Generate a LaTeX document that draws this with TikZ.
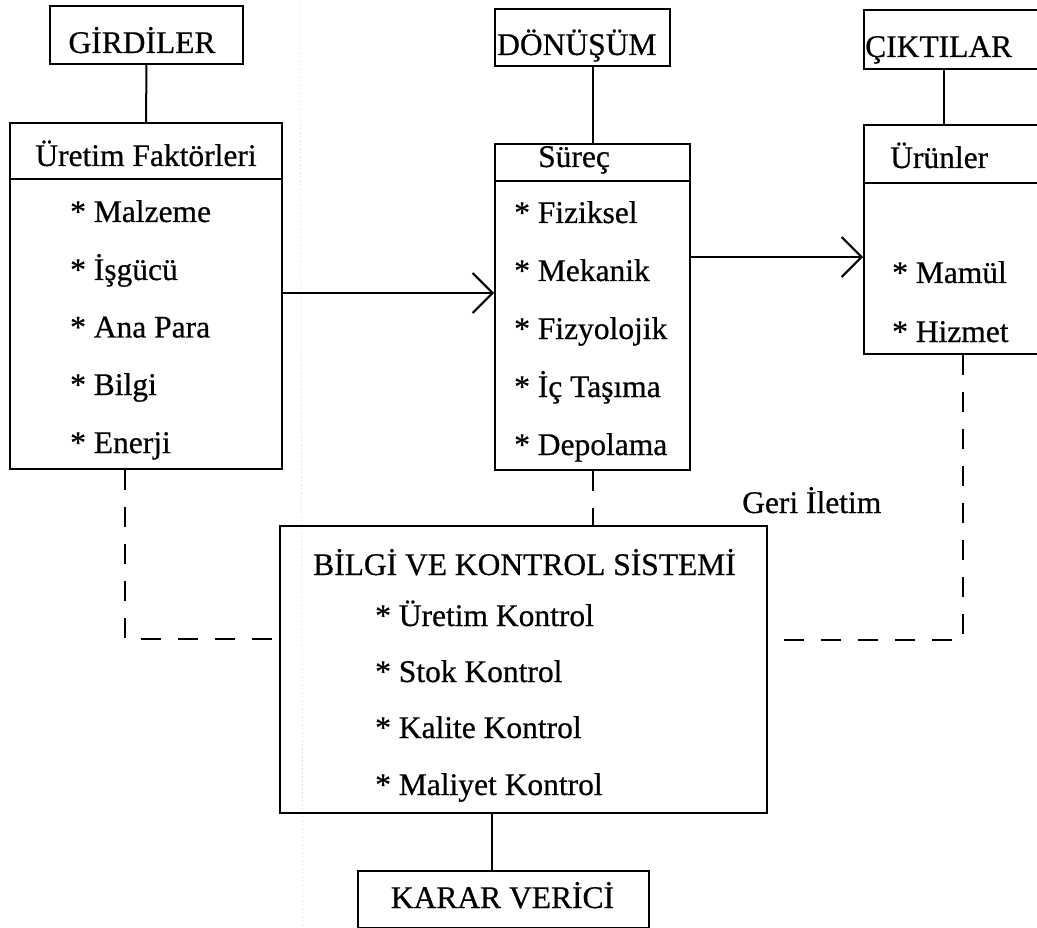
\documentclass[tikz,border=0pt]{standalone}
\usepackage{fontspec}
\setmainfont{Liberation Serif}[FakeBold=0.6]
\usetikzlibrary{arrows.meta,calc}
\begin{document}
\begin{tikzpicture}[x=1pt,y=-1pt,
  every node/.style={font=\fontsize{31.5}{36}\selectfont, inner sep=0pt},
  box/.style={draw, line width=2pt, anchor=north west},
  lbl/.style={anchor=base west},
  link/.style={line width=2pt},
  dashlink/.style={line width=2pt, dash pattern=on 20pt off 17pt},
  flow/.style={line width=2pt, -{Straight Barb[length=20pt,width=40pt]}},
]
\useasboundingbox (0,0) rectangle (1037,928);

% faint vertical page guide
\draw[gray!30, line width=0.7pt, dash pattern=on 1.5pt off 2.5pt] (300,0) -- (303,928);

% --- boxes ---
\node[box, minimum width=193pt, minimum height=58pt]  (gird)     at (49,5)    {};
\node[box, minimum width=272pt, minimum height=346pt] (uretim)   at (9,122)   {};
\node[box, minimum width=175pt, minimum height=57pt]  (donusum)  at (494,8)   {};
\node[box, minimum width=195pt, minimum height=326pt] (surec)    at (494,143) {};
\node[box, minimum width=200pt, minimum height=59pt]  (ciktilar) at (863,9)   {};
\node[box, minimum width=200pt, minimum height=229pt] (urunler)  at (863,124) {};
\node[box, minimum width=487pt, minimum height=287pt] (bilgi)    at (279,525) {};
\node[box, minimum width=291pt, minimum height=57pt]  (karar)    at (357,870) {};

% title dividers
\draw[link] ($(uretim.north west)+(0,57)$) -- ($(uretim.north east)+(0,57)$);
\draw[link] ($(surec.north west)+(0,38)$) -- ($(surec.north east)+(0,38)$);
\draw[link] ($(urunler.north west)+(0,59)$) -- ($(urunler.north east)+(0,59)$);

% --- headings ---
\node[anchor=base] (girdT) at (142,53) {GİRDİLER};
\node[lbl] (donusumT) at (497,55) {DÖNÜŞÜM};
\node[lbl] (ciktilarT) at (865,57) {ÇIKTILAR};
\node[anchor=base] (uretimT) at (146,166) {Üretim Faktörleri};
\node[lbl] (surecT) at (538,167) {Süreç};
\node[lbl] (urunlerT) at (890,168) {Ürünler};
\node[lbl] (bilgiT) at (313,575) {BİLGİ VE KONTROL SİSTEMİ};
\node[anchor=base] (kararT) at (502.5,908) {KARAR VERİCİ};
\node[lbl] (geri) at (742,513) {Geri İletim};

% --- item lists ---
\node[lbl] (u1) at (70,222)   {* Malzeme};
\node[lbl] (u2) at (70,280)   {* İşgücü};
\node[lbl] (u3) at (70,337.5) {* Ana Para};
\node[lbl] (u4) at (70,395)   {* Bilgi};
\node[lbl] (u5) at (70,453)   {* Enerji};

\node[lbl] (s1) at (514,223) {* Fiziksel};
\node[lbl] (s2) at (514,281) {* Mekanik};
\node[lbl] (s3) at (514,339) {* Fizyolojik};
\node[lbl] (s4) at (514,397) {* İç Taşıma};
\node[lbl] (s5) at (514,455) {* Depolama};

\node[lbl] (o1) at (892,283) {* Mamül};
\node[lbl] (o2) at (892,342) {* Hizmet};

\node[lbl] (b1) at (375,626) {* Üretim Kontrol};
\node[lbl] (b2) at (375,682) {* Stok Kontrol};
\node[lbl] (b3) at (375,738) {* Kalite Kontrol};
\node[lbl] (b4) at (375,795) {* Maliyet Kontrol};

% --- connectors ---
\coordinate (cx) at (944,0);
\coordinate (kx) at (492,0);
\coordinate (a1) at (0,293);
\coordinate (a2) at (0,257);
\coordinate (dl) at (125,639);
\coordinate (dr) at (963,640);

\draw[link] (gird.south) -- (uretim.north);
\draw[link] (surec.north) -- (surec.north |- donusum.south);
\draw[link] (cx |- ciktilar.south) -- (cx |- urunler.north);
\draw[link] (kx |- bilgi.south) -- (kx |- karar.north);

\draw[flow] (uretim.east |- a1) -- (surec.west |- a1);
\draw[flow] (surec.east |- a2) -- (urunler.west |- a2);

\draw[dashlink] (uretim.south -| dl) -- (dl) -- (bilgi.west |- dl);
\draw[dashlink] (surec.south) -- (bilgi.north -| surec.south);
\draw[dashlink] (urunler.south -| dr) -- (dr) -- (bilgi.east |- dr);
\end{tikzpicture}
\end{document}
